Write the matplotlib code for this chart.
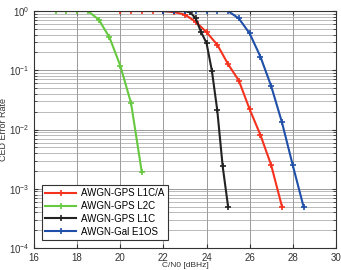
import matplotlib
matplotlib.use('Agg')
import matplotlib.pyplot as plt
from matplotlib.ticker import LogLocator, NullFormatter

plt.rcParams['font.family'] = ['Liberation Sans', 'DejaVu Sans']

# C/N0 [dBHz] and CED error rate
x_l1ca = [20, 20.5, 21, 21.5, 22, 22.5, 23, 23.5, 24, 24.5, 25, 25.5, 26, 26.5, 27, 27.5]
y_l1ca = [1, 1, 1, 1, 1, 0.96, 0.87, 0.66, 0.44, 0.27, 0.127, 0.067, 0.022, 0.0081, 0.0025, 0.0005]

x_l2c = [17, 17.5, 18, 18.5, 19, 19.5, 20, 20.5, 21]
y_l2c = [1, 1, 1, 1, 0.72, 0.36, 0.12, 0.028, 0.0019]

x_l1c = [22, 22.5, 23, 23.25, 23.5, 23.75, 24, 24.25, 24.5, 24.75, 25]
y_l1c = [1, 1, 1, 0.95, 0.75, 0.44, 0.29, 0.098, 0.021, 0.0024, 0.0005]

x_e1os = [22, 22.5, 23, 23.5, 24, 24.5, 25, 25.5, 26, 26.5, 27, 27.5, 28, 28.5]
y_e1os = [1, 1, 1, 1, 1, 1, 1, 0.75, 0.42, 0.17, 0.054, 0.0132, 0.0025, 0.0005]

labels = ['AWGN-GPS L1C/A', 'AWGN-GPS L2C', 'AWGN-GPS L1C', 'AWGN-Gal E1OS']
colors = ['#f5321e', '#66c93f', '#222222', '#1f4fa8']

fig = plt.figure(figsize=(3.41, 2.70), dpi=100)
ax = fig.add_axes([0.0997, 0.0815, 0.8853, 0.8775])

series = [(x_l1ca, y_l1ca), (x_l2c, y_l2c), (x_l1c, y_l1c), (x_e1os, y_e1os)]
for (xs, ys), lab, c in zip(series, labels, colors):
    ax.plot(xs, ys, color=c, lw=1.5, marker='+', ms=5, mew=1.2, label=lab)

ax.set_yscale('log')
ax.set_xlim(16, 30)
ax.set_ylim(1e-4, 1)
ax.set_xticks([16, 18, 20, 22, 24, 26, 28, 30])
ax.yaxis.set_major_locator(LogLocator(base=10, numticks=10))
ax.yaxis.set_minor_locator(LogLocator(base=10, subs=range(2, 10), numticks=10))
ax.yaxis.set_minor_formatter(NullFormatter())

ax.grid(True, which='major', color='#8a8a8a', lw=0.6)
ax.grid(True, which='minor', axis='y', color='#a0a0a0', lw=0.5)
ax.tick_params(which='both', direction='in', top=True, right=True,
               labelsize=7, colors='#333333', labelcolor='#333333')
ax.tick_params(which='major', length=3)
ax.tick_params(which='minor', length=2)
for s in ax.spines.values():
    s.set_color('#333333')
    s.set_linewidth(0.8)

ax.set_ylabel('CED Error Rate', fontsize=6.5, color='#333333')
ax.yaxis.set_label_coords(-0.085, 0.5)
ax.set_xlabel('C/N0 [dBHz]', fontsize=6, color='#333333')
ax.xaxis.set_label_coords(0.5, -0.058)

leg = ax.legend(loc='lower left', fontsize=7, frameon=True, fancybox=False,
                edgecolor='#333333', framealpha=1, borderpad=0.35,
                labelspacing=0.3, handlelength=3.2, handletextpad=0.5,
                borderaxespad=0.8)
leg.get_frame().set_linewidth(0.8)

fig.savefig('out.png', dpi=100)
